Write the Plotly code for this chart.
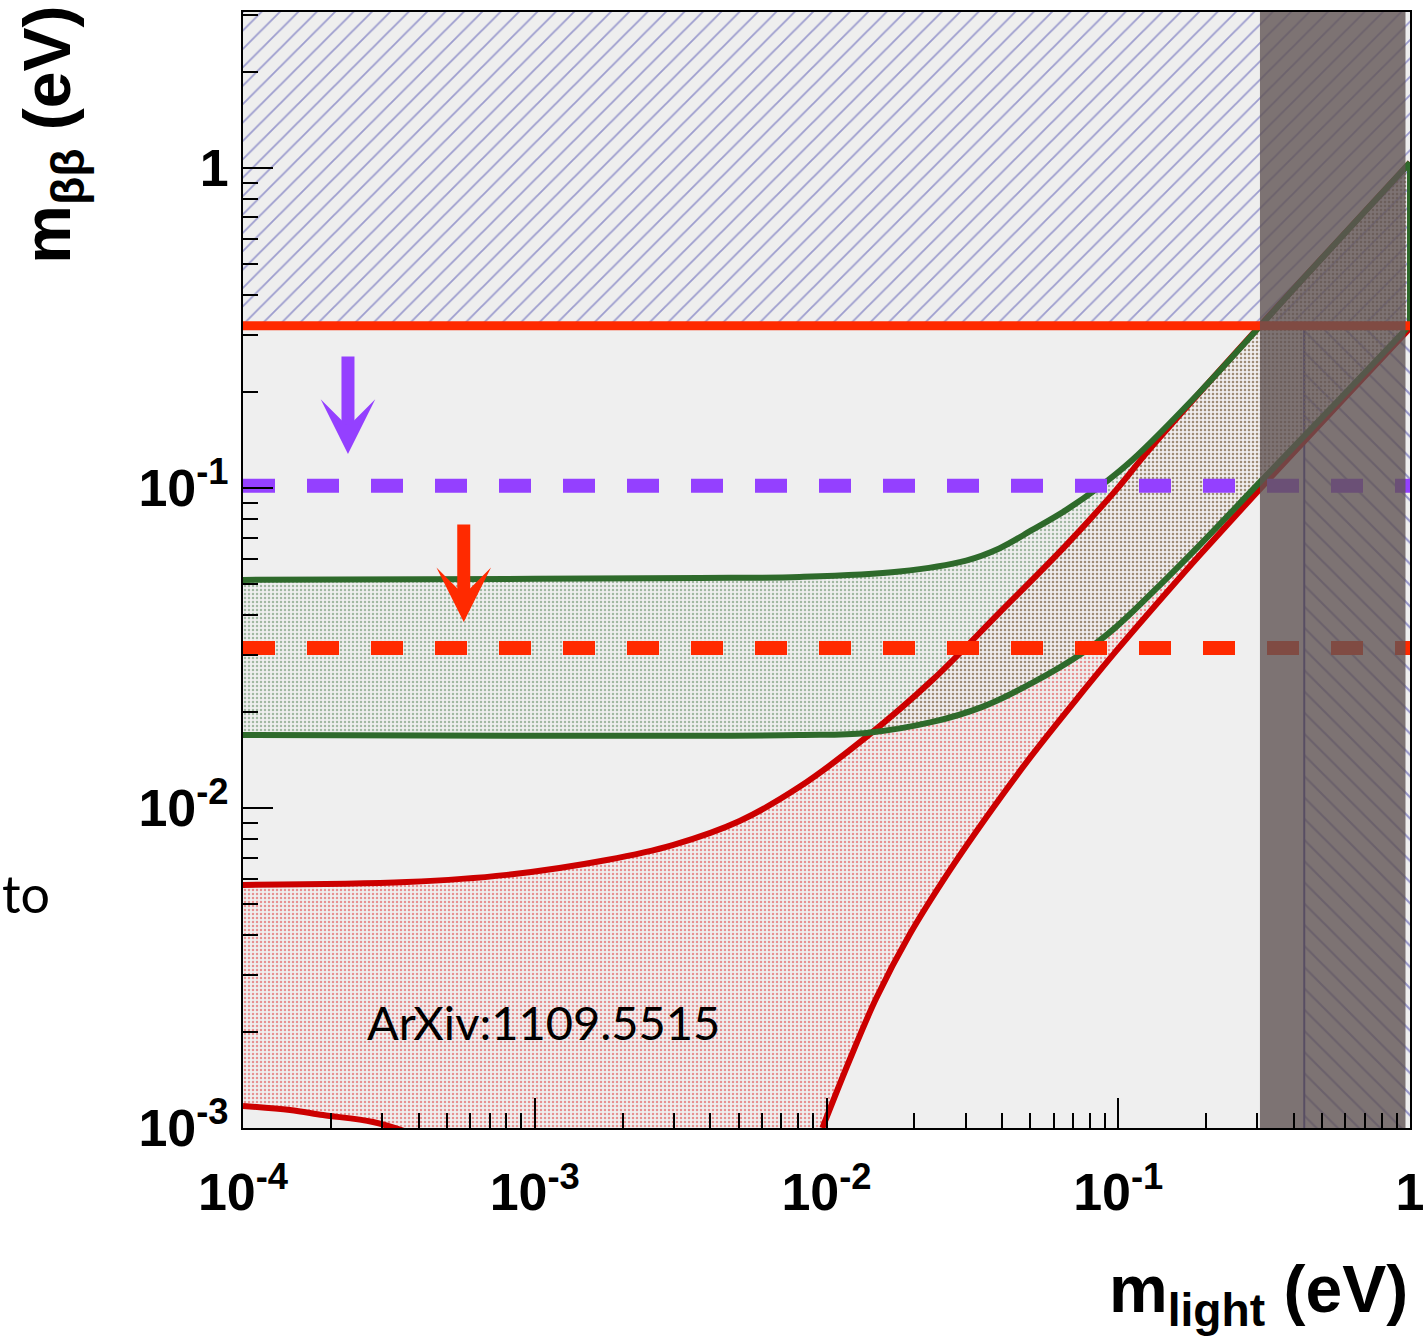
import numpy as np
import plotly.graph_objects as go

# ---------------- data ----------------
X_MIN, X_MAX = 1e-4, 1.0
Y_MIN, Y_MAX = 1e-3, 3.07

excl_limit = 0.321          # current limit (solid red line, hatched above)
purple_limit = 0.1015       # future sensitivity (purple dashed)
red_limit = 0.0316          # future sensitivity (red dashed)
band_x = [0.306, 0.965]     # grey vertical band
hatch2_x = [0.434, 1.0]     # back-hatched region

# normal hierarchy (red band)
nh_upper_x = [1e-4, 3.64e-4, 8.02e-4, 1.765e-3, 2.97e-3, 5.04e-3, 8.08e-3, 0.01371,
              0.02306, 0.0391, 0.0664, 0.0984, 0.1276, 0.306, 1.0]
nh_upper_y = [5.75e-3, 5.87e-3, 6.18e-3, 6.88e-3, 7.66e-3, 9.11e-3, 0.01164, 0.01667,
              0.0251, 0.0407, 0.0664, 0.0986, 0.1315, 0.321, 1.04]
nh_lower_x = [9.68e-3, 0.0120, 0.01482, 0.01923, 0.02635, 0.0370, 0.0507, 0.0754,
              0.0984, 0.146, 0.189, 0.304, 0.571, 1.0]
nh_lower_y = [1.0e-3, 1.631e-3, 2.547e-3, 4.01e-3, 6.35e-3, 9.93e-3, 0.01465, 0.02305,
              0.03097, 0.04697, 0.06131, 0.0986, 0.183, 0.316]
nh_left_x = [1e-4, 1.449e-4, 1.88e-4, 2.79e-4, 3.73e-4]
nh_left_y = [1.172e-3, 1.138e-3, 1.098e-3, 1.044e-3, 9.65e-4]

# inverted hierarchy (green band)
ih_upper_x = [1e-4, 1e-3, 3.67e-3, 8.08e-3, 0.0178, 0.0301, 0.0391, 0.0507, 0.0664,
              0.0861, 0.1117, 0.189, 0.417, 1.0]
ih_upper_y = [0.0516, 0.0520, 0.0523, 0.0527, 0.0548, 0.0593, 0.0647, 0.0739, 0.0854,
              0.1007, 0.1223, 0.198, 0.437, 1.04]
ih_lower_x = [1e-4, 1e-3, 8.08e-3, 0.01371, 0.02306, 0.0342, 0.0507, 0.0754, 0.0984,
              0.146, 0.189, 0.304, 0.571, 1.0]
ih_lower_y = [0.0169, 0.0168, 0.0169, 0.01716, 0.01857, 0.0207, 0.0246, 0.0305, 0.0368,
              0.0520, 0.0659, 0.1037, 0.1884, 0.323]

x_tickvals = [1e-4, 1e-3, 1e-2, 1e-1, 1]
x_ticktext = ["10<sup>-4</sup>", "10<sup>-3</sup>", "10<sup>-2</sup>", "10<sup>-1</sup>", "1"]
y_tickvals = [1e-3, 1e-2, 1e-1, 1]
y_ticktext = ["10<sup>-3</sup>", "10<sup>-2</sup>", "10<sup>-1</sup>", "1"]

# ---------------- styles ----------------
RED_CURVE = "#cc0000"
GREEN_CURVE = "#2e6a2b"
RED_LIMIT = "#ff2a00"
PURPLE = "#9440ff"
HATCH = "#4c4cae"
BG = "#efefef"

minor_x = [k * 10.0 ** e for e in range(-4, 0) for k in range(2, 10)]
minor_y = [k * 10.0 ** e for e in range(-3, 1) for k in range(2, 10) if k * 10.0 ** e < Y_MAX]

fig = go.Figure()
common = dict(mode="lines", hoverinfo="skip", showlegend=False)

# excluded (hatched) region above current limit
fig.add_trace(go.Scatter(
    x=[X_MIN, X_MAX, X_MAX, X_MIN], y=[excl_limit, excl_limit, Y_MAX, Y_MAX],
    fill="toself", fillcolor=BG, line=dict(width=0),
    fillpattern=dict(shape="/", fgcolor=HATCH, bgcolor="#eeeeee", size=13, solidity=0.14),
    **common))

# back-hatched region at large masses
fig.add_trace(go.Scatter(
    x=[hatch2_x[0], hatch2_x[1], hatch2_x[1], hatch2_x[0]],
    y=[Y_MIN, Y_MIN, excl_limit, excl_limit],
    fill="toself", fillcolor="rgba(0,0,0,0)", line=dict(width=0),
    fillpattern=dict(shape="\\", fgcolor="#3a3aa0", bgcolor="rgba(0,0,0,0)", size=15, solidity=0.14),
    **common))
fig.add_trace(go.Scatter(x=[hatch2_x[0], hatch2_x[0]], y=[Y_MIN, excl_limit],
                         line=dict(color="#3a3aa0", width=2), **common))

# NH band fill
nh_poly_x = nh_upper_x + nh_lower_x[::-1] + nh_left_x[::-1]
nh_poly_y = nh_upper_y + nh_lower_y[::-1] + nh_left_y[::-1]
fig.add_trace(go.Scatter(
    x=nh_poly_x, y=nh_poly_y, fill="toself", fillcolor="rgba(0,0,0,0)", line=dict(width=0),
    fillpattern=dict(shape=".", fgcolor="#e05050", fgopacity=0.6, bgcolor="rgba(0,0,0,0)",
                     size=4, solidity=0.3),
    **common))

# IH band fill
ih_poly_x = ih_upper_x + ih_lower_x[::-1]
ih_poly_y = ih_upper_y + ih_lower_y[::-1]
fig.add_trace(go.Scatter(
    x=ih_poly_x, y=ih_poly_y, fill="toself", fillcolor="rgba(0,0,0,0)", line=dict(width=0),
    fillpattern=dict(shape=".", fgcolor="#608860", fgopacity=0.55, bgcolor="rgba(0,0,0,0)",
                     size=4, solidity=0.3),
    **common))

# NH curves
for xs, ys in [(nh_upper_x, nh_upper_y), (nh_lower_x, nh_lower_y), (nh_left_x, nh_left_y)]:
    fig.add_trace(go.Scatter(x=xs, y=ys, line=dict(color=RED_CURVE, width=6, shape="spline"), **common))

# IH curves
for xs, ys in [(ih_upper_x, ih_upper_y), (ih_lower_x, ih_lower_y)]:
    fig.add_trace(go.Scatter(x=xs, y=ys, line=dict(color=GREEN_CURVE, width=6, shape="spline"), **common))
fig.add_trace(go.Scatter(x=[ih_upper_x[-1], ih_lower_x[-1]], y=[ih_upper_y[-1], ih_lower_y[-1]],
                         line=dict(color=GREEN_CURVE, width=6), **common))

# current limit line
fig.add_trace(go.Scatter(x=[X_MIN, X_MAX], y=[excl_limit, excl_limit],
                         line=dict(color=RED_LIMIT, width=9), **common))
# future sensitivities
fig.add_trace(go.Scatter(x=[X_MIN, X_MAX], y=[purple_limit, purple_limit],
                         line=dict(color=PURPLE, width=14, dash="32px,32px"), **common))
fig.add_trace(go.Scatter(x=[X_MIN, X_MAX], y=[red_limit, red_limit],
                         line=dict(color=RED_LIMIT, width=14, dash="32px,32px"), **common))

# grey band
fig.add_trace(go.Scatter(
    x=[band_x[0], band_x[1], band_x[1], band_x[0]], y=[Y_MIN, Y_MIN, Y_MAX, Y_MAX],
    fill="toself", fillcolor="rgba(96,84,84,0.8)", line=dict(width=0), **common))

tickfont = dict(family="Liberation Sans, Arial, sans-serif", size=52, color="black", weight="bold")
axis_common = dict(
    type="log", showline=True, linecolor="black", linewidth=2, mirror=True,
    ticks="inside", ticklen=30, tickwidth=2, tickcolor="black",
    showgrid=False, zeroline=False, tickfont=tickfont, ticklabeloverflow="allow",
    automargin=False,
)
fig.update_xaxes(range=[np.log10(X_MIN), np.log10(X_MAX)], tickvals=x_tickvals, ticktext=x_ticktext,
                 minor=dict(tickvals=minor_x, ticks="inside", ticklen=15, tickwidth=2,
                            tickcolor="black", showgrid=False),
                 ticklabelstandoff=18, **axis_common)
fig.update_yaxes(range=[np.log10(Y_MIN), np.log10(Y_MAX)], tickvals=y_tickvals, ticktext=y_ticktext,
                 minor=dict(tickvals=minor_y, ticks="inside", ticklen=15, tickwidth=2,
                            tickcolor="black", showgrid=False),
                 ticklabelstandoff=2, **axis_common)

title_font = dict(family="Liberation Sans, Arial, sans-serif", size=66, color="black", weight="bold")
annotations = [
    # axis titles
    dict(text="m<sub>light</sub> (eV)", xref="paper", yref="paper", x=1.0, y=-0.149,
         xanchor="right", yanchor="middle", showarrow=False, font=title_font),
    dict(text="m<sub>ββ</sub> (eV)", xref="paper", yref="paper", x=-0.1637, y=0.89,
         xanchor="center", yanchor="middle", textangle=-90, showarrow=False, font=title_font),
    # reference text
    dict(text="ArXiv:1109.5515", xref="x", yref="y", x=np.log10(2.62e-4), y=np.log10(2.14e-3),
         xanchor="left", yanchor="middle", showarrow=False,
         font=dict(family="Lato, sans-serif", size=47, color="black")),
    dict(text="to", xref="paper", yref="paper", x=-243 / 1167, y=0.2106,
         xanchor="left", yanchor="middle", showarrow=False,
         font=dict(family="Lato, sans-serif", size=52, color="black")),
    # arrows
    dict(text="", xref="x", yref="y", x=np.log10(2.29e-4), y=np.log10(0.1277), ax=0, ay=-99,
         showarrow=True, arrowhead=3, arrowsize=0.7, arrowwidth=13, arrowcolor=PURPLE),
    dict(text="", xref="x", yref="y", x=np.log10(5.71e-4), y=np.log10(0.0381), ax=0, ay=-99,
         showarrow=True, arrowhead=3, arrowsize=0.7, arrowwidth=13, arrowcolor=RED_LIMIT),
]

fig.update_layout(
    width=1424, height=1338,
    margin=dict(l=243, r=14, t=12, b=210, pad=0, autoexpand=False),
    paper_bgcolor="white", plot_bgcolor=BG,
    showlegend=False, annotations=annotations,
)

fig.write_html("out.html")
